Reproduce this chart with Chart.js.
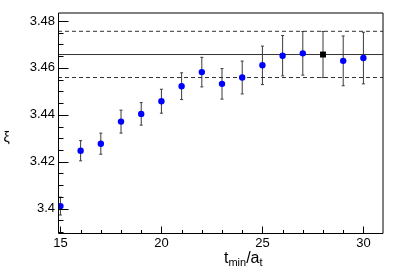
<!DOCTYPE html>
<html>
<head>
<meta charset="utf-8">
<script src="https://cdn.jsdelivr.net/npm/chart.js@4"></script>
<style>
html,body{margin:0;padding:0;background:#fff;}
#wrap{width:407px;height:277px;position:relative;}
</style>
</head>
<body>
<div id="wrap"><canvas id="c" width="407" height="277"></canvas></div>
<script>
// ---- data ----
const tMin = [15,16,17,18,19,20,21,22,23,24,25,26,27,28,29,30];
const xiValues = [3.4011,3.4247,3.4277,3.4371,3.4404,3.4458,3.4522,3.4582,3.4532,3.4559,3.4611,3.4652,3.4662,3.4657,3.4630,3.4642];
const xiErrors = [0.0038,0.0043,0.0045,0.0049,0.0048,0.0051,0.0057,0.0063,0.0065,0.0070,0.0082,0.0086,0.0093,0.0098,0.0106,0.0110];
const chosenT = [28];
const fitCentral = [3.4657];
const fitUpper = [3.4756];
const fitLower = [3.4559];
const xRange = [14.88, 30.97];
const yRange = [3.3892, 3.4834];
const xTickValues = [15,20,25,30];
const xTickLabels = ["15","20","25","30"];
const yTickValues = [3.40,3.42,3.44,3.46,3.48];
const yTickLabels = ["3.4","3.42","3.44","3.46","3.48"];
const xMinorStep = 1;
const yMinorStep = 0.005;

const mainPts = [], chosenPts = [];
tMin.forEach((t,i)=>{
  const p = {x:t, y:xiValues[i], e:xiErrors[i]};
  if (chosenT.includes(t)) chosenPts.push(p); else mainPts.push(p);
});
const allPts = tMin.map((t,i)=>({x:t,y:xiValues[i],e:xiErrors[i]}));
const hline = v => [{x:xRange[0],y:v},{x:xRange[1],y:v}];

const errorBars = {
  id:'errorBars',
  beforeDatasetsDraw(chart){
    const ctx = chart.ctx, xs = chart.scales.x, ys = chart.scales.y;
    ctx.save();
    ctx.strokeStyle = '#3a3a3a';
    ctx.lineWidth = 1;
    allPts.forEach(p=>{
      const px = xs.getPixelForValue(p.x);
      const y1 = ys.getPixelForValue(p.y + p.e);
      const y2 = ys.getPixelForValue(p.y - p.e);
      ctx.beginPath();
      ctx.moveTo(px,y1); ctx.lineTo(px,y2);
      ctx.moveTo(px-1.5,y1); ctx.lineTo(px+1.5,y1);
      ctx.moveTo(px-1.5,y2); ctx.lineTo(px+1.5,y2);
      ctx.stroke();
    });
    ctx.restore();
  }
};

const frameTicks = {
  id:'frameTicks',
  afterDraw(chart){
    const ctx = chart.ctx, xs = chart.scales.x, ys = chart.scales.y, a = chart.chartArea;
    ctx.save();
    ctx.strokeStyle = '#000';
    ctx.lineWidth = 1;
    const L = Math.round(a.left)+0.5, R = Math.round(a.right), T = Math.round(a.top), B = Math.round(a.bottom)-0.5;
    ctx.beginPath();
    ctx.moveTo(L, B); ctx.lineTo(L, T); ctx.lineTo(R, T); ctx.lineTo(R, B); ctx.lineTo(L, B);
    ctx.stroke();
    ctx.beginPath();
    // y ticks
    for (let v = Math.ceil(yRange[0]/yMinorStep)*yMinorStep; v <= yRange[1]+1e-9; v += yMinorStep) {
      const py = Math.round(ys.getPixelForValue(v))+0.5;
      const major = yTickValues.some(t=>Math.abs(t-v)<1e-6);
      ctx.moveTo(L, py); ctx.lineTo(L + (major?10:5), py);
    }
    // x ticks
    for (let v = Math.ceil(xRange[0]/xMinorStep)*xMinorStep; v <= xRange[1]+1e-9; v += xMinorStep) {
      const px = Math.round(xs.getPixelForValue(v))+0.5;
      const major = xTickValues.some(t=>Math.abs(t-v)<1e-6);
      ctx.moveTo(px, B); ctx.lineTo(px, B - (major?7:3.5));
    }
    ctx.stroke();

    // axis titles
    ctx.fillStyle = '#000';
    ctx.textBaseline = 'alphabetic';
    ctx.textAlign = 'left';
    let x = 224, base = 263.3;
    const parts = [['t',16,0],['min',11,2.5],['/',16,0],['a',16,0],['t',11,2.5]];
    parts.forEach(([s,sz,dy])=>{
      ctx.font = sz+'px "Liberation Sans", Arial, sans-serif';
      ctx.fillText(s, x, base+dy);
      x += ctx.measureText(s).width;
    });
    ctx.font = '14px "Liberation Sans", "DejaVu Sans", sans-serif';
    ctx.fillText('ξ', 3.5, 142);
    ctx.restore();
  }
};

const tickFont = {family:'"Liberation Sans", Arial, sans-serif', size:13};

new Chart(document.getElementById('c'), {
  type:'scatter',
  data:{
    datasets:[
      {data:hline(fitCentral[0]), showLine:true, borderColor:'#333', borderWidth:1, pointRadius:0, order:5},
      {data:hline(fitUpper[0]), showLine:true, borderColor:'#333', borderWidth:1, borderDash:[4,3], pointRadius:0, order:5},
      {data:hline(fitLower[0]), showLine:true, borderColor:'#333', borderWidth:1, borderDash:[4,3], pointRadius:0, order:5},
      {data:mainPts, backgroundColor:'#0000ff', borderWidth:0, pointRadius:3.2, pointHoverRadius:3.2, order:1},
      {data:chosenPts, pointStyle:'rect', backgroundColor:'#000', borderWidth:0, pointRadius:4.2, pointHoverRadius:4.2, order:0}
    ]
  },
  options:{
    responsive:false,
    animation:false,
    devicePixelRatio:1,
    layout:{padding:{top:13,right:24,left:0,bottom:0}},
    plugins:{legend:{display:false},tooltip:{enabled:false}},
    events:[],
    scales:{
      x:{
        type:'linear', min:xRange[0], max:xRange[1],
        grid:{display:false, drawTicks:false}, border:{display:false},
        afterBuildTicks(s){ s.ticks = xTickValues.map(v=>({value:v})); },
        afterFit(s){ s.height = 43; },
        ticks:{font:tickFont, color:'#000', padding:2, maxRotation:0, autoSkip:false,
          callback:(v)=>{const i=xTickValues.indexOf(v); return i>=0?xTickLabels[i]:'';}}
      },
      y:{
        type:'linear', min:yRange[0], max:yRange[1],
        grid:{display:false, drawTicks:false}, border:{display:false},
        afterBuildTicks(s){ s.ticks = yTickValues.map(v=>({value:v})); },
        afterFit(s){ s.width = 58; },
        ticks:{font:tickFont, color:'#000', padding:3, autoSkip:false,
          callback:(v)=>{const i=yTickValues.findIndex(t=>Math.abs(t-v)<1e-9); return i>=0?yTickLabels[i]:'';}}
      }
    }
  },
  plugins:[errorBars, frameTicks]
});
</script>
</body>
</html>
